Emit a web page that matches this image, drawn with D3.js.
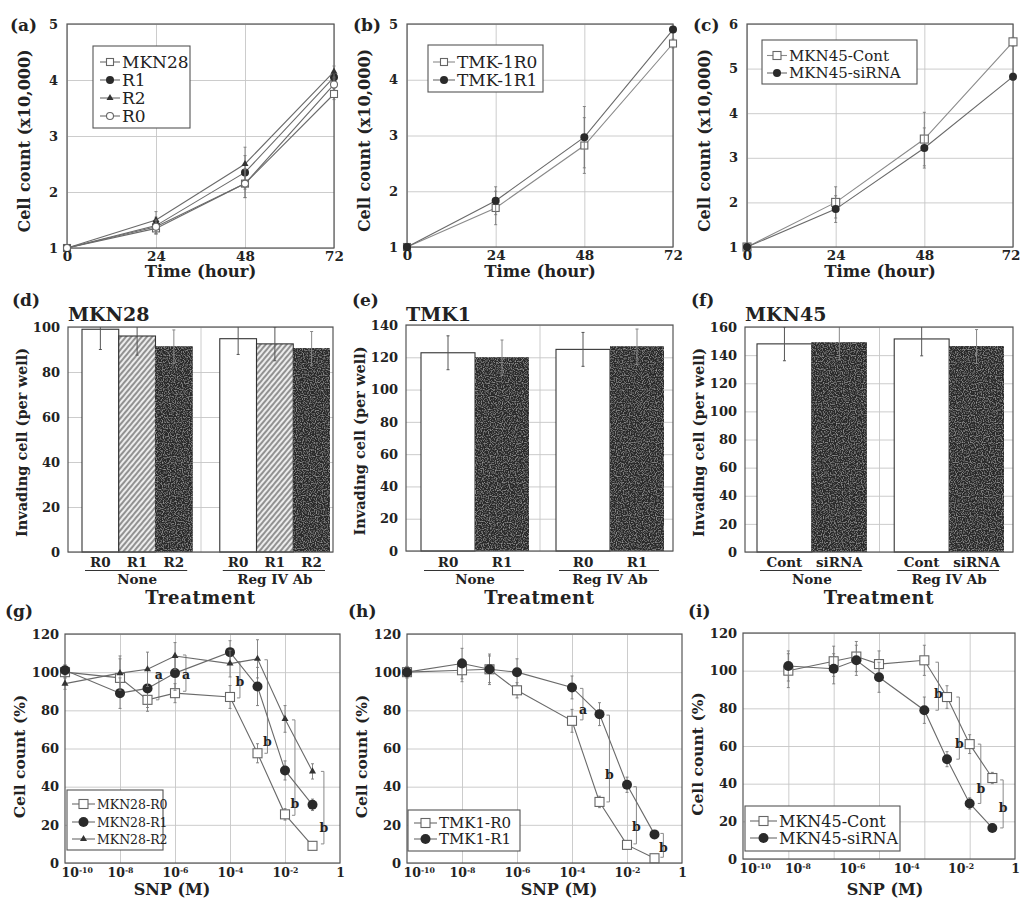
<!DOCTYPE html>
<html><head><meta charset="utf-8">
<script src="https://cdn.jsdelivr.net/npm/d3@7/dist/d3.min.js"></script>
<style>
body{margin:0;background:#fff}
svg{display:block}
text{font-family:"DejaVu Serif","Liberation Serif",serif;fill:#222}
</style></head><body>
<svg id="chart" width="1021" height="899"></svg>
<script>
// ================= DATA =================
const hours = [0, 24, 48, 72];
// (a) MKN28 growth
const aMKN28 = [1.00, 1.35, 2.15, 3.75], aMKN28Err = [0.03, 0.10, 0.25, 0.10];
const aR1 = [1.00, 1.40, 2.35, 4.05],    aR1Err = [0.03, 0.15, 0.30, 0.10];
const aR2 = [1.00, 1.50, 2.50, 4.15],    aR2Err = [0.03, 0.15, 0.30, 0.10];
const aR0 = [1.00, 1.38, 2.15, 3.92],    aR0Err = [0.03, 0.12, 0.25, 0.10];
const aTicks = [1, 2, 3, 4, 5];
// (b) TMK-1 growth
const bR0 = [1.00, 1.70, 2.82, 4.65], bR0Err = [0.03, 0.30, 0.50, 0.08];
const bR1 = [1.00, 1.83, 2.97, 4.90], bR1Err = [0.03, 0.25, 0.55, 0.05];
const bTicks = [1, 2, 3, 4, 5];
// (c) MKN45 growth
const cCont = [1.00, 2.00, 3.42, 5.60], cContErr = [0.03, 0.35, 0.60, 0.10];
const cSi = [1.00, 1.85, 3.22, 4.82],   cSiErr = [0.03, 0.30, 0.45, 0.08];
const cTicks = [1, 2, 3, 4, 5, 6];
// (d)-(f) invasion
const treatGroups = ["None", "Reg IV Ab"];
const dSubs = ["R0", "R1", "R2"];
const dNone = [99.0, 96.0, 91.2], dNoneErr = [9, 8.5, 7.5];
const dReg = [94.8, 92.5, 90.5],  dRegErr = [7, 7.5, 7.5];
const dTicks = [0, 20, 40, 60, 80, 100];
const eSubs = ["R0", "R1"];
const eNone = [122.8, 119.7], eNoneErr = [10.5, 11];
const eReg = [124.9, 126.5],  eRegErr = [10.5, 11];
const eTicks = [0, 20, 40, 60, 80, 100, 120, 140];
const fSubs = ["Cont", "siRNA"];
const fNone = [148.0, 148.8], fNoneErr = [12, 12];
const fReg = [151.5, 146.2],  fRegErr = [12, 12];
const fTicks = [0, 20, 40, 60, 80, 100, 120, 140, 160];
// (g)-(i) SNP dose response
const doses = [1e-10, 1e-8, 1e-7, 1e-6, 1e-4, 1e-3, 1e-2, 1e-1];
const doseTicks = [1e-10, 1e-8, 1e-6, 1e-4, 1e-2, 1];
const doseGrid = [1e-8, 1e-6, 1e-4, 1e-2];
const doseGridI = [1e-10, 1e-8, 1e-6, 1e-4, 1e-2];
const pctTicks = [0, 20, 40, 60, 80, 100, 120];
const gR0 = [100, 97, 85.5, 89, 87, 57.5, 25.5, 9],       gR0Err = [3, 10, 6, 5, 6, 5, 3, 2];
const gR1 = [101, 89, 91.5, 99.5, 110.5, 92.5, 48.5, 30.5], gR1Err = [3, 8, 10, 9, 6, 10, 5, 3];
const gR2 = [94, 99.5, 101.5, 108.5, 104.5, 107, 75.5, 48], gR2Err = [3, 9, 9, 7, 7, 10, 7, 4];
const hR0 = [100, 101, 101.5, 90.5, 74.5, 32, 9.5, 2.5],  hR0Err = [3, 6, 7, 4, 6, 3, 2, 1];
const hR1 = [100, 104.5, 101.5, 100, 92, 78, 41, 15],     hR1Err = [3, 8, 8, 7, 6, 6, 4, 2];
const iCont = [100, 105, 107.5, 103.5, 105.5, 86, 61, 43], iContErr = [9, 8, 8, 7, 8, 6, 5, 3];
const iSi = [102.5, 101, 105.5, 96.5, 79, 53, 29.5, 16.5], iSiErr = [8, 8, 8, 8, 7, 4, 3, 2];
// significance brackets
const annG = [
  {x: 2.6e-7, lo: 85.5, hi: 99.5, ly: 98.5, t: "a"},
  {x: 2.5e-6, lo: 90, hi: 109, ly: 98.5, t: "a"},
  {x: 2.3e-4, lo: 86.5, hi: 105.5, ly: 95, t: "b"},
  {x: 2.3e-3, lo: 57.5, hi: 106.5, ly: 63.5, t: "b"},
  {x: 2.3e-2, lo: 25, hi: 75, ly: 31, t: "b"},
  {x: 0.26, lo: 10, hi: 48, ly: 18.5, t: "b"}
];
const annH = [
  {x: 2.5e-4, lo: 75, hi: 91.5, ly: 80, t: "a"},
  {x: 2.3e-3, lo: 32, hi: 77.5, ly: 46, t: "b"},
  {x: 2.2e-2, lo: 10, hi: 40, ly: 19, t: "b"},
  {x: 0.21, lo: 3, hi: 15.5, ly: 8, t: "b"}
];
const annI = [
  {x: 4.2e-4, lo: 79, hi: 104.5, ly: 87.5, t: "b"},
  {x: 3.5e-3, lo: 53, hi: 86, ly: 61, t: "b"},
  {x: 3.1e-2, lo: 29.5, hi: 61, ly: 37, t: "b"},
  {x: 0.30, lo: 16.5, hi: 42, ly: 27, t: "b"}
];

// ================= HELPERS =================
const FONT = '"DejaVu Serif","Liberation Serif",serif';
const svg = d3.select("#chart");
svg.append("rect").attr("width", 1021).attr("height", 899).attr("fill", "#fff");
const defs = svg.append("defs");
const hp = defs.append("pattern").attr("id", "hatch").attr("patternUnits", "userSpaceOnUse")
  .attr("width", 4).attr("height", 4).attr("patternTransform", "rotate(40)");
hp.append("rect").attr("width", 4).attr("height", 4).attr("fill", "#ececec");
hp.append("line").attr("x1", 1).attr("y1", 0).attr("x2", 1).attr("y2", 4).attr("stroke", "#555").attr("stroke-width", 1.2);
// grain texture for the dark bars
const gf = defs.append("filter").attr("id", "grain").attr("x", 0).attr("y", 0).attr("width", "100%").attr("height", "100%");
gf.append("feTurbulence").attr("type", "fractalNoise").attr("baseFrequency", 0.85).attr("numOctaves", 1).attr("seed", 3).attr("result", "n");
gf.append("feColorMatrix").attr("in", "n").attr("type", "matrix")
  .attr("values", "0 0 0 0 0.55  0 0 0 0 0.55  0 0 0 0 0.55  0 0 0 1.6 -0.75").attr("result", "s");
gf.append("feComposite").attr("in", "s").attr("in2", "SourceGraphic").attr("operator", "in").attr("result", "c");
const fm = gf.append("feMerge");
fm.append("feMergeNode").attr("in", "SourceGraphic");
fm.append("feMergeNode").attr("in", "c");
const FILL = {white: "#ffffff", hatch: "url(#hatch)", dark: "#2c2c2c"};

function txt(x, y, s, o = {}) {
  const t = svg.append("text").attr("x", x).attr("y", y).text(s)
    .attr("font-family", FONT)
    .attr("font-size", o.size || 14)
    .attr("font-weight", o.weight || "bold")
    .attr("text-anchor", o.anchor || "start")
    .attr("fill", o.fill || "#222");
  if (o.rotate) t.attr("transform", `rotate(${o.rotate},${x},${y})`);
  if (o.ls) t.attr("letter-spacing", o.ls);
  return t;
}
function grid(L, x, y, xTicks, yTicks) {
  const g = svg.append("g");
  g.append("g").attr("transform", `translate(${L.x0},0)`)
    .call(d3.axisLeft(y).tickValues(yTicks).tickSize(-(L.x1 - L.x0)).tickFormat(""));
  if (xTicks) g.append("g").attr("transform", `translate(0,${L.yBot})`)
    .call(d3.axisBottom(x).tickValues(xTicks).tickSize(-(L.yBot - L.yTop)).tickFormat(""));
  g.selectAll(".domain").remove();
  g.selectAll("line").attr("stroke", "#c6c6c6").attr("stroke-width", 0.9);
}
function frame(L) {
  svg.append("rect").attr("x", L.x0).attr("y", L.yTop).attr("width", L.x1 - L.x0).attr("height", L.yBot - L.yTop)
    .attr("fill", "none").attr("stroke", "#555").attr("stroke-width", 1.2);
}
function styleAxisText(g, size) {
  g.select(".domain").remove();
  g.selectAll("text").attr("font-family", FONT).attr("font-weight", "bold").attr("font-size", size).attr("fill", "#222");
}
function yLabels(L, y, ticks, pad) {
  const g = svg.append("g").attr("transform", `translate(${L.x0},0)`)
    .call(d3.axisLeft(y).tickValues(ticks).tickSize(0).tickPadding(pad).tickFormat(d3.format("d")));
  styleAxisText(g, 13);
}
function marker(g, type, cx, cy, s) {
  if (type === "sq") g.append("rect").attr("x", cx - s / 2).attr("y", cy - s / 2).attr("width", s).attr("height", s)
    .attr("fill", "#fff").attr("stroke", "#666").attr("stroke-width", 1.1);
  else if (type === "dot") g.append("circle").attr("cx", cx).attr("cy", cy).attr("r", s / 2).attr("fill", "#2a2a2a");
  else if (type === "oc") g.append("circle").attr("cx", cx).attr("cy", cy).attr("r", s / 2)
    .attr("fill", "#fff").attr("stroke", "#666").attr("stroke-width", 1.1);
  else if (type === "tri") g.append("path").attr("d", d3.symbol(d3.symbolTriangle, s * s * 0.6)())
    .attr("transform", `translate(${cx},${cy})`).attr("fill", "#333");
}
function drawSeries(x, y, xs, s) {
  const g = svg.append("g");
  const pts = xs.map((xv, i) => ({x: xv, y: s.v[i], e: s.e[i]}));
  g.append("path").datum(pts).attr("d", d3.line().x(d => x(d.x)).y(d => y(d.y)))
    .attr("fill", "none").attr("stroke", s.line || "#6a6a6a").attr("stroke-width", 1.1);
  g.selectAll(".eb").data(pts).join("path")
    .attr("d", d => {
      const px = x(d.x), a = y(d.y + d.e), b = y(d.y - d.e);
      return `M${px},${a}V${b}M${px - 1.5},${a}h3M${px - 1.5},${b}h3`;
    })
    .attr("fill", "none").attr("stroke", "#7a7a7a").attr("stroke-width", 0.9);
  pts.forEach(d => marker(g, s.mk, x(d.x), y(d.y), s.size));
}
function legend(Lg, series) {
  svg.append("rect").attr("x", Lg.x).attr("y", Lg.y).attr("width", Lg.w).attr("height", Lg.h)
    .attr("fill", "#fff").attr("stroke", "#555").attr("stroke-width", 1.1);
  const g = svg.append("g");
  series.forEach((s, i) => {
    const ry = Lg.rows[i];
    g.append("line").attr("x1", Lg.s0).attr("x2", Lg.s1).attr("y1", ry).attr("y2", ry)
      .attr("stroke", s.line || "#6a6a6a").attr("stroke-width", 1.1);
    marker(g, s.mk, (Lg.s0 + Lg.s1) / 2, ry, s.size);
    txt(Lg.tx, ry + Lg.fs * 0.36, s.name, {size: Lg.fs, weight: "normal", fill: "#333"});
  });
}
function supTicks(g, size) {
  g.selectAll(".tick text").each(function (d) {
    const e = Math.round(Math.log10(d));
    const t = d3.select(this);
    t.text("");
    if (e === 0) { t.text("1"); return; }
    t.append("tspan").text("10");
    t.append("tspan").attr("dy", "-0.55em").attr("font-size", size * 0.62).text(String(e));
  });
  // first label sits just right of the left frame, as in the reference
  g.selectAll(".tick text").filter(d => d === 1e-10).attr("text-anchor", "start").attr("x", -4);
}

// ================= LINE PANELS (a)-(c) =================
function linePanel(L, yDom, yTicks, series, Lg) {
  const x = d3.scaleLinear().domain([0, 72]).range([L.x0, L.x1]);
  const y = d3.scaleLinear().domain(yDom).range([L.yBot, L.yTop]);
  grid(L, x, y, hours, yTicks);
  frame(L);
  series.forEach(s => drawSeries(x, y, hours, s));
  yLabels(L, y, yTicks, 9);
  const gx = svg.append("g").attr("transform", `translate(0,${L.yBot})`)
    .call(d3.axisBottom(x).tickValues(hours).tickSize(0).tickPadding(3).tickFormat(d3.format("d")));
  styleAxisText(gx, 13.5);
  if (L.x1 > 1000) gx.selectAll(".tick text").filter(d => d === 72).attr("text-anchor", "end").attr("x", 7);
  legend(Lg, series);
  txt((L.x0 + L.x1) / 2, 277, "Time (hour)", {size: 16.5, anchor: "middle"});
  txt(L.x0 - 37, (L.yTop + L.yBot) / 2 + 5, "Cell count (x10,000)", {size: 16, anchor: "middle", rotate: -90});
}

linePanel({x0: 67, x1: 334, yTop: 24, yBot: 248}, [1, 5], aTicks, [
  {name: "MKN28", v: aMKN28, e: aMKN28Err, mk: "sq", size: 7},
  {name: "R1", v: aR1, e: aR1Err, mk: "dot", size: 8},
  {name: "R2", v: aR2, e: aR2Err, mk: "tri", size: 6},
  {name: "R0", v: aR0, e: aR0Err, mk: "oc", size: 7}
], {x: 93, y: 46, w: 97, h: 82, rows: [62, 80, 98, 116], s0: 100, s1: 120, tx: 122, fs: 17});
txt(10, 31, "(a)", {size: 17});

linePanel({x0: 407, x1: 673, yTop: 24, yBot: 247}, [1, 5], bTicks, [
  {name: "TMK-1R0", v: bR0, e: bR0Err, mk: "sq", size: 7, line: "#8a8a8a"},
  {name: "TMK-1R1", v: bR1, e: bR1Err, mk: "dot", size: 8}
], {x: 428, y: 45, w: 115, h: 47, rows: [62, 80], s0: 433, s1: 455, tx: 457, fs: 17});
txt(353, 31, "(b)", {size: 17});

linePanel({x0: 747, x1: 1013, yTop: 24, yBot: 247}, [1, 6], cTicks, [
  {name: "MKN45-Cont", v: cCont, e: cContErr, mk: "sq", size: 8, line: "#8a8a8a"},
  {name: "MKN45-siRNA", v: cSi, e: cSiErr, mk: "dot", size: 8}
], {x: 762, y: 40, w: 155, h: 44, rows: [55.5, 73], s0: 767, s1: 787, tx: 789, fs: 15}, 0);
txt(693, 31, "(c)", {size: 17});

// ================= BAR PANELS (d)-(f) =================
function barPanel(L, yMax, yTicks, subs, vals, errs, fills, title) {
  const y = d3.scaleLinear().domain([0, yMax]).range([L.yBot, L.yTop]);
  const gx = d3.scaleBand().domain(treatGroups).range([L.bx0, L.bx1]).paddingInner(0.2);
  const sx = d3.scaleBand().domain(subs).range([0, gx.bandwidth()]);
  grid(L, null, y, null, yTicks);
  const mid = d3.scaleLinear().domain([0, 1]).range([L.x0, L.x1]);
  svg.append("g").attr("transform", `translate(0,${L.yBot})`)
    .call(d3.axisBottom(mid).tickValues([0.5]).tickSize(-(L.yBot - L.yTop)).tickFormat(""))
    .call(g => { g.select(".domain").remove(); g.selectAll("line").attr("stroke", "#c6c6c6").attr("stroke-width", 0.9); });
  const clipId = "clip" + title;
  defs.append("clipPath").attr("id", clipId).append("rect")
    .attr("x", L.x0).attr("y", L.yTop).attr("width", L.x1 - L.x0).attr("height", L.yBot - L.yTop);
  const bars = [];
  treatGroups.forEach((gr, gi) => subs.forEach((s, si) => bars.push({gr, s, si, v: vals[gi][si], e: errs[gi][si]})));
  svg.append("g").selectAll("rect").data(bars).join("rect")
    .attr("x", d => gx(d.gr) + sx(d.s)).attr("y", d => y(d.v))
    .attr("width", sx.bandwidth()).attr("height", d => y(0) - y(d.v))
    .attr("fill", d => FILL[fills[d.si]])
    .attr("filter", d => fills[d.si] === "dark" ? "url(#grain)" : null)
    .attr("stroke", "#333").attr("stroke-width", 1.1);
  svg.append("g").attr("clip-path", `url(#${clipId})`).selectAll("path").data(bars).join("path")
    .attr("d", d => {
      const px = gx(d.gr) + sx(d.s) + sx.bandwidth() / 2, a = y(d.v + d.e), b = y(d.v - d.e);
      return `M${px},${a}V${b}M${px - 1.5},${a}h3M${px - 1.5},${b}h3`;
    })
    .attr("stroke", d => fills[d.si] === "dark" ? "#888" : "#555").attr("stroke-width", 1);
  frame(L);
  yLabels(L, y, yTicks, 8);
  treatGroups.forEach(gr => {
    subs.forEach(s => txt(gx(gr) + sx(s) + sx.bandwidth() / 2, 567, s, {size: 13.5, anchor: "middle"}));
    svg.append("line").attr("x1", gx(gr) + 3).attr("x2", gx(gr) + gx.bandwidth() - 5)
      .attr("y1", 570.5).attr("y2", 570.5).attr("stroke", "#333").attr("stroke-width", 1.1);
    txt(gx(gr) + gx.bandwidth() / 2, 584, gr, {size: 13.5, anchor: "middle"});
  });
  txt((L.x0 + L.x1) / 2, 604, "Treatment", {size: 18, anchor: "middle", ls: 0.6});
  txt(L.x0 - 41, (L.yTop + L.yBot) / 2 + 3, "Invading cell (per well)", {size: 14.5, anchor: "middle", rotate: -90});
  txt(L.x0, 321, title, {size: 19});
}
barPanel({x0: 68, x1: 333, yTop: 327, yBot: 552, bx0: 82, bx1: 330}, 100, dTicks, dSubs,
  [dNone, dReg], [dNoneErr, dRegErr], ["white", "hatch", "dark"], "MKN28");
txt(12, 306, "(d)", {size: 17});
barPanel({x0: 406, x1: 673, yTop: 325, yBot: 551, bx0: 421, bx1: 664}, 140, eTicks, eSubs,
  [eNone, eReg], [eNoneErr, eRegErr], ["white", "dark"], "TMK1");
txt(352, 306, "(e)", {size: 17});
barPanel({x0: 745, x1: 1013, yTop: 327, yBot: 552, bx0: 757, bx1: 1004}, 160, fTicks, fSubs,
  [fNone, fReg], [fNoneErr, fRegErr], ["white", "dark"], "MKN45");
txt(691, 306, "(f)", {size: 17});

// ================= DOSE PANELS (g)-(i) =================
function dosePanel(L, dataDom, gridXs, series, ann, Lg, titleX) {
  const x = d3.scaleLog().domain(dataDom).range([L.x0, L.x1]);
  const xl = d3.scaleLog().domain([1e-10, 1]).range([L.x0, L.x1]);
  const y = d3.scaleLinear().domain([0, 120]).range([L.yBot, L.yTop]);
  grid(L, x, y, gridXs, pctTicks);
  frame(L);
  const ga = svg.append("g");
  ann.forEach(a => {
    const px = x(a.x);
    ga.append("path").attr("d", `M${px - 3},${y(a.hi)}H${px}V${y(a.lo)}H${px - 3}`)
      .attr("fill", "none").attr("stroke", "#8a8a8a").attr("stroke-width", 1);
  });
  series.forEach(s => drawSeries(x, y, doses, s));
  ann.forEach(a => txt(x(a.x), y(a.ly) + 4, a.t, {size: 12.5, anchor: "middle", fill: "#333"}));
  yLabels(L, y, pctTicks, 6);
  const gx = svg.append("g").attr("transform", `translate(0,${L.yBot})`)
    .call(d3.axisBottom(xl).tickValues(doseTicks).tickSize(0).tickPadding(5));
  styleAxisText(gx, 12.5);
  supTicks(gx, 12.5);
  legend(Lg, series);
  txt(titleX, 895, "SNP (M)", {size: 16, anchor: "middle"});
  txt(L.x0 - 40, (L.yTop + L.yBot) / 2 + 8, "Cell count (%)", {size: 15.5, anchor: "middle", rotate: -90});
}
dosePanel({x0: 65, x1: 340, yTop: 634, yBot: 863}, [1e-10, 1], doseGrid, [
  {name: "MKN28-R0", v: gR0, e: gR0Err, mk: "sq", size: 9},
  {name: "MKN28-R1", v: gR1, e: gR1Err, mk: "dot", size: 10},
  {name: "MKN28-R2", v: gR2, e: gR2Err, mk: "tri", size: 6}
], annG, {x: 67, y: 790, w: 96, h: 60, rows: [804, 822, 839], s0: 72, s1: 95, tx: 97, fs: 12.5}, 172);
txt(5, 617, "(g)", {size: 17});
dosePanel({x0: 407, x1: 682, yTop: 634, yBot: 863}, [1e-10, 1], doseGrid, [
  {name: "TMK1-R0", v: hR0, e: hR0Err, mk: "sq", size: 9},
  {name: "TMK1-R1", v: hR1, e: hR1Err, mk: "dot", size: 10}
], annH, {x: 408, y: 810, w: 112, h: 41, rows: [823, 839], s0: 414, s1: 437, tx: 439, fs: 15}, 559);
txt(348, 617, "(h)", {size: 17});
dosePanel({x0: 743, x1: 1015, yTop: 633, yBot: 859}, [1e-12, 1], doseGridI, [
  {name: "MKN45-Cont", v: iCont, e: iContErr, mk: "sq", size: 9},
  {name: "MKN45-siRNA", v: iSi, e: iSiErr, mk: "dot", size: 10}
], annI, {x: 745, y: 806, w: 155, h: 45, rows: [821, 838], s0: 750, s1: 777, tx: 779, fs: 16}, 885);
txt(688, 617, "(i)", {size: 17});
</script>
</body></html>
